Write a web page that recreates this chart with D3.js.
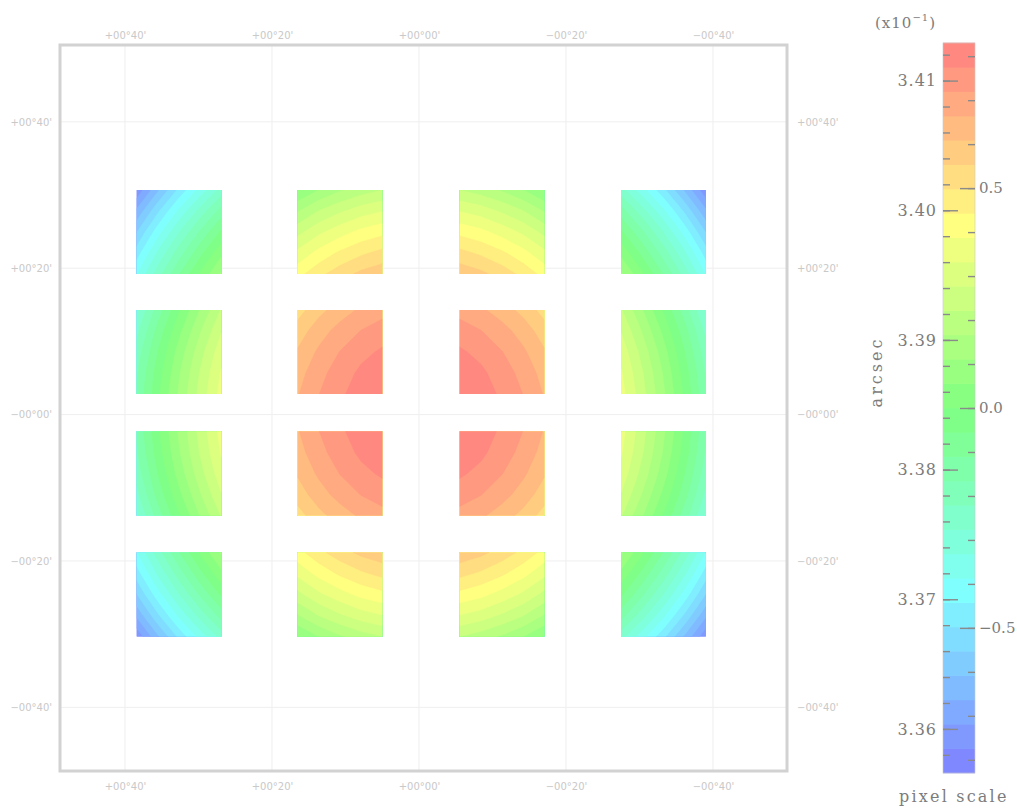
<!DOCTYPE html>
<html>
<head>
<meta charset="utf-8">
<script src="https://cdn.jsdelivr.net/npm/d3@7/dist/d3.min.js"></script>
<style>
  body { margin: 0; background: #fff; }
  svg { display: block; }
</style>
</head>
<body>
<svg id="chart" width="1017" height="811"></svg>
<script>
// ---- sky grid (offsets in arcmin) ----
const raTicks = [40, 20, 0, -20, -40];
const decTicks = [40, 20, 0, -20, -40];
const raTickLabels = ["+00°40'", "+00°20'", "+00°00'", "−00°20'", "−00°40'"];
const decTickLabels = ["+00°40'", "+00°20'", "−00°00'", "−00°20'", "−00°40'"];
const raExtent = [48.84, -50.07];
const decExtent = [50.5, -48.7];

// ---- detector layout: chip centres (arcmin) and chip side ----
const chipRA = [32.65, 10.75, -11.3, -33.27];
const chipDec = [24.95, 8.55, -8.05, -24.58];
const chipSize = 11.5;

// ---- pixel scale samples on each chip (x10^-1 arcsec), 5x5, rows north->south, cols east->west ----
const scaleR0C0 = [
  [3.3589, 3.3638, 3.3683, 3.3723, 3.3761],
  [3.3626, 3.3675, 3.3720, 3.3761, 3.3799],
  [3.3659, 3.3708, 3.3753, 3.3794, 3.3832],
  [3.3688, 3.3738, 3.3782, 3.3823, 3.3861],
  [3.3715, 3.3764, 3.3809, 3.3850, 3.3888]];
const scaleR0C1 = [
  [3.3865, 3.3885, 3.3901, 3.3913, 3.3922],
  [3.3902, 3.3923, 3.3938, 3.3951, 3.3959],
  [3.3935, 3.3956, 3.3971, 3.3984, 3.3992],
  [3.3965, 3.3985, 3.4001, 3.4013, 3.4022],
  [3.3991, 3.4011, 3.4027, 3.4040, 3.4048]];
const scaleR0C2 = [
  [3.3922, 3.3913, 3.3901, 3.3885, 3.3865],
  [3.3959, 3.3951, 3.3938, 3.3923, 3.3902],
  [3.3992, 3.3984, 3.3971, 3.3956, 3.3935],
  [3.4022, 3.4013, 3.4001, 3.3985, 3.3965],
  [3.4048, 3.4040, 3.4027, 3.4011, 3.3991]];
const scaleR0C3 = [
  [3.3761, 3.3723, 3.3683, 3.3638, 3.3589],
  [3.3799, 3.3761, 3.3720, 3.3675, 3.3626],
  [3.3832, 3.3794, 3.3753, 3.3708, 3.3659],
  [3.3861, 3.3823, 3.3782, 3.3738, 3.3688],
  [3.3888, 3.3850, 3.3809, 3.3764, 3.3715]];
const scaleR1C0 = [
  [3.3751, 3.3800, 3.3845, 3.3886, 3.3924],
  [3.3767, 3.3817, 3.3861, 3.3902, 3.3940],
  [3.3780, 3.3829, 3.3874, 3.3915, 3.3953],
  [3.3789, 3.3838, 3.3883, 3.3924, 3.3962],
  [3.3794, 3.3843, 3.3888, 3.3929, 3.3967]];
const scaleR1C1 = [
  [3.4027, 3.4048, 3.4063, 3.4076, 3.4084],
  [3.4044, 3.4064, 3.4080, 3.4092, 3.4101],
  [3.4056, 3.4076, 3.4092, 3.4105, 3.4113],
  [3.4065, 3.4085, 3.4101, 3.4114, 3.4122],
  [3.4071, 3.4091, 3.4107, 3.4119, 3.4128]];
const scaleR1C2 = [
  [3.4084, 3.4076, 3.4063, 3.4048, 3.4027],
  [3.4101, 3.4092, 3.4080, 3.4064, 3.4044],
  [3.4113, 3.4105, 3.4092, 3.4076, 3.4056],
  [3.4122, 3.4114, 3.4101, 3.4085, 3.4065],
  [3.4128, 3.4119, 3.4107, 3.4091, 3.4071]];
const scaleR1C3 = [
  [3.3924, 3.3886, 3.3845, 3.3800, 3.3751],
  [3.3940, 3.3902, 3.3861, 3.3817, 3.3767],
  [3.3953, 3.3915, 3.3874, 3.3829, 3.3780],
  [3.3962, 3.3924, 3.3883, 3.3838, 3.3789],
  [3.3967, 3.3929, 3.3888, 3.3843, 3.3794]];
const scaleR2C0 = [
  [3.3794, 3.3843, 3.3888, 3.3929, 3.3967],
  [3.3789, 3.3838, 3.3883, 3.3924, 3.3962],
  [3.3780, 3.3829, 3.3874, 3.3915, 3.3953],
  [3.3767, 3.3817, 3.3861, 3.3902, 3.3940],
  [3.3751, 3.3800, 3.3845, 3.3886, 3.3924]];
const scaleR2C1 = [
  [3.4071, 3.4091, 3.4107, 3.4119, 3.4128],
  [3.4065, 3.4085, 3.4101, 3.4114, 3.4122],
  [3.4056, 3.4076, 3.4092, 3.4105, 3.4113],
  [3.4044, 3.4064, 3.4080, 3.4092, 3.4101],
  [3.4027, 3.4048, 3.4063, 3.4076, 3.4084]];
const scaleR2C2 = [
  [3.4128, 3.4119, 3.4107, 3.4091, 3.4071],
  [3.4122, 3.4114, 3.4101, 3.4085, 3.4065],
  [3.4113, 3.4105, 3.4092, 3.4076, 3.4056],
  [3.4101, 3.4092, 3.4080, 3.4064, 3.4044],
  [3.4084, 3.4076, 3.4063, 3.4048, 3.4027]];
const scaleR2C3 = [
  [3.3967, 3.3929, 3.3888, 3.3843, 3.3794],
  [3.3962, 3.3924, 3.3883, 3.3838, 3.3789],
  [3.3953, 3.3915, 3.3874, 3.3829, 3.3780],
  [3.3940, 3.3902, 3.3861, 3.3817, 3.3767],
  [3.3924, 3.3886, 3.3845, 3.3800, 3.3751]];
const scaleR3C0 = [
  [3.3715, 3.3764, 3.3809, 3.3850, 3.3888],
  [3.3688, 3.3738, 3.3782, 3.3823, 3.3861],
  [3.3659, 3.3708, 3.3753, 3.3794, 3.3832],
  [3.3626, 3.3675, 3.3720, 3.3761, 3.3799],
  [3.3589, 3.3638, 3.3683, 3.3723, 3.3761]];
const scaleR3C1 = [
  [3.3991, 3.4011, 3.4027, 3.4040, 3.4048],
  [3.3965, 3.3985, 3.4001, 3.4013, 3.4022],
  [3.3935, 3.3956, 3.3971, 3.3984, 3.3992],
  [3.3902, 3.3923, 3.3938, 3.3951, 3.3959],
  [3.3865, 3.3885, 3.3901, 3.3913, 3.3922]];
const scaleR3C2 = [
  [3.4048, 3.4040, 3.4027, 3.4011, 3.3991],
  [3.4022, 3.4013, 3.4001, 3.3985, 3.3965],
  [3.3992, 3.3984, 3.3971, 3.3956, 3.3935],
  [3.3959, 3.3951, 3.3938, 3.3923, 3.3902],
  [3.3922, 3.3913, 3.3901, 3.3885, 3.3865]];
const scaleR3C3 = [
  [3.3888, 3.3850, 3.3809, 3.3764, 3.3715],
  [3.3861, 3.3823, 3.3782, 3.3738, 3.3688],
  [3.3832, 3.3794, 3.3753, 3.3708, 3.3659],
  [3.3799, 3.3761, 3.3720, 3.3675, 3.3626],
  [3.3761, 3.3723, 3.3683, 3.3638, 3.3589]];

// ---- colour bar ----
const scaleExtent = [3.3566, 3.4129];      // x10^-1 arcsec
const deviationExtent = [-0.83, 0.83];     // relative deviation
const scaleTicks = [3.36, 3.37, 3.38, 3.39, 3.40, 3.41];
const deviationTicks = [-0.5, 0.0, 0.5];
const bandCount = 30;

const chipRows = [
  [scaleR0C0, scaleR0C1, scaleR0C2, scaleR0C3],
  [scaleR1C0, scaleR1C1, scaleR1C2, scaleR1C3],
  [scaleR2C0, scaleR2C1, scaleR2C2, scaleR2C3],
  [scaleR3C0, scaleR3C1, scaleR3C2, scaleR3C3]];

// ---------------------------------------------------------------
const svg = d3.select("#chart");
const frame = { x0: 60, x1: 787, y0: 45, y1: 771 };
const bar = { x0: 943, x1: 975, y0: 43, y1: 773 };

const x = d3.scaleLinear().domain(raExtent).range([frame.x0, frame.x1]);
const y = d3.scaleLinear().domain(decExtent).range([frame.y0, frame.y1]);

const hue = d3.scaleLinear().domain(scaleExtent).range([240, 0]).clamp(true);
const colorOf = v => d3.hsl(hue(v), 1, 0.75).formatHex();

const step = (scaleExtent[1] - scaleExtent[0]) / bandCount;
const thresholds = d3.range(bandCount).map(i => scaleExtent[0] + i * step);
const bandColor = t => colorOf(t + step / 2);

svg.append("rect").attr("width", 1017).attr("height", 811).attr("fill", "#fff");

// grid lines
const grid = svg.append("g").attr("stroke", "#efefef").attr("stroke-width", 1);
grid.selectAll("line.v").data(raTicks).join("line")
  .attr("x1", d => x(d)).attr("x2", d => x(d))
  .attr("y1", frame.y0).attr("y2", frame.y1);
grid.selectAll("line.h").data(decTicks).join("line")
  .attr("y1", d => y(d)).attr("y2", d => y(d))
  .attr("x1", frame.x0).attr("x2", frame.x1);

// chips drawn as filled contour bands
const defs = svg.append("defs");
const chipLayer = svg.append("g");
const n = 5;
const contours = d3.contours().size([n, n]).thresholds(thresholds);

chipRows.forEach((row, r) => {
  row.forEach((values, c) => {
    const xa = x(chipRA[c] + chipSize / 2), xb = x(chipRA[c] - chipSize / 2);
    const ya = y(chipDec[r] + chipSize / 2), yb = y(chipDec[r] - chipSize / 2);
    const w = xb - xa, h = yb - ya;
    const id = `chip-${r}-${c}`;
    defs.append("clipPath").attr("id", id)
      .append("rect").attr("x", xa).attr("y", ya).attr("width", w).attr("height", h);
    const proj = d3.geoTransform({
      point(px, py) {
        this.stream.point(xa + (px - 0.5) / (n - 1) * w, ya + (py - 0.5) / (n - 1) * h);
      }
    });
    const path = d3.geoPath(proj);
    chipLayer.append("g").attr("clip-path", `url(#${id})`)
      .selectAll("path").data(contours(values.flat())).join("path")
      .attr("d", path)
      .attr("fill", d => bandColor(d.value))
      .attr("stroke", d => bandColor(d.value))
      .attr("stroke-width", 0.6);
  });
});

// frame
svg.append("rect")
  .attr("x", frame.x0).attr("y", frame.y0)
  .attr("width", frame.x1 - frame.x0).attr("height", frame.y1 - frame.y0)
  .attr("fill", "none").attr("stroke", "#d2d2d2").attr("stroke-width", 3);

// sky axis labels
function styleSkyAxis(g) {
  g.select(".domain").remove();
  g.selectAll("text")
    .attr("fill", "#c9c9c9")
    .attr("font-family", "DejaVu Sans")
    .attr("font-size", 10);
}
svg.append("g").attr("transform", `translate(0,${frame.y0})`)
  .call(d3.axisTop(x).tickValues(raTicks).tickFormat((d, i) => raTickLabels[i]).tickSize(0).tickPadding(6))
  .call(styleSkyAxis);
svg.append("g").attr("transform", `translate(0,${frame.y1})`)
  .call(d3.axisBottom(x).tickValues(raTicks).tickFormat((d, i) => raTickLabels[i]).tickSize(0).tickPadding(12))
  .call(styleSkyAxis);
svg.append("g").attr("transform", `translate(${frame.x0},0)`)
  .call(d3.axisLeft(y).tickValues(decTicks).tickFormat((d, i) => decTickLabels[i]).tickSize(0).tickPadding(8))
  .call(styleSkyAxis);
svg.append("g").attr("transform", `translate(${frame.x1},0)`)
  .call(d3.axisRight(y).tickValues(decTicks).tickFormat((d, i) => decTickLabels[i]).tickSize(0).tickPadding(10))
  .call(styleSkyAxis);

// colour bar
const cy = d3.scaleLinear().domain(scaleExtent).range([bar.y1, bar.y0]);
const dy = d3.scaleLinear().domain(deviationExtent).range([bar.y1, bar.y0]);

svg.append("g").selectAll("rect").data(thresholds).join("rect")
  .attr("x", bar.x0).attr("width", bar.x1 - bar.x0)
  .attr("y", d => cy(d + step) - 0.3)
  .attr("height", d => cy(d) - cy(d + step) + 0.6)
  .attr("fill", d => bandColor(d));
svg.append("rect")
  .attr("x", bar.x0).attr("y", bar.y0)
  .attr("width", bar.x1 - bar.x0).attr("height", bar.y1 - bar.y0)
  .attr("fill", "none").attr("stroke", "#c8c8c8").attr("stroke-width", 0.6);

const textColor = "#7c7c7c";
function styleBarAxis(size, spacing) {
  return g => {
    g.select(".domain").remove();
    g.selectAll("line").attr("stroke", "#8a8a8a").attr("stroke-width", 1.4);
    g.selectAll("text")
      .attr("fill", textColor)
      .attr("font-family", "DejaVu Serif")
      .attr("font-size", size)
      .attr("letter-spacing", spacing);
  };
}
const minorScale = d3.range(3.358, 3.4125, 0.002);
const minorDev = d3.range(-0.8, 0.81, 0.1);

svg.append("g").attr("transform", `translate(${bar.x0},0)`)
  .call(d3.axisLeft(cy).tickValues(minorScale).tickFormat("").tickSizeInner(-7).tickSizeOuter(0))
  .call(styleBarAxis(16, 1));
svg.append("g").attr("transform", `translate(${bar.x0},0)`)
  .call(d3.axisLeft(cy).tickValues(scaleTicks).tickFormat(d3.format(".2f")).tickSizeInner(-15).tickSizeOuter(0).tickPadding(6))
  .call(styleBarAxis(16, 1));
svg.append("g").attr("transform", `translate(${bar.x1},0)`)
  .call(d3.axisRight(dy).tickValues(minorDev).tickFormat("").tickSizeInner(-7).tickSizeOuter(0))
  .call(styleBarAxis(15, 0));
svg.append("g").attr("transform", `translate(${bar.x1},0)`)
  .call(d3.axisRight(dy).tickValues(deviationTicks).tickFormat(d3.format(".1f")).tickSizeInner(-15).tickSizeOuter(0).tickPadding(4))
  .call(styleBarAxis(15, 0));

// colour bar titles
const exp = svg.append("text")
  .attr("x", 875).attr("y", 28)
  .attr("fill", textColor).attr("font-family", "DejaVu Serif").attr("font-size", 15)
  .attr("letter-spacing", 1);
exp.append("tspan").text("(x10");
exp.append("tspan").attr("dy", -7).attr("font-size", 10).text("−1");
exp.append("tspan").attr("dy", 7).text(")");

svg.append("text")
  .attr("transform", "translate(882,372) rotate(-90)")
  .attr("text-anchor", "middle")
  .attr("fill", textColor).attr("font-family", "DejaVu Serif").attr("font-size", 16)
  .attr("letter-spacing", 3)
  .text("arcsec");

svg.append("text")
  .attr("x", 899).attr("y", 802)
  .attr("fill", textColor).attr("font-family", "DejaVu Serif").attr("font-size", 16)
  .attr("letter-spacing", 2.2)
  .text("pixel scale");
</script>
</body>
</html>
